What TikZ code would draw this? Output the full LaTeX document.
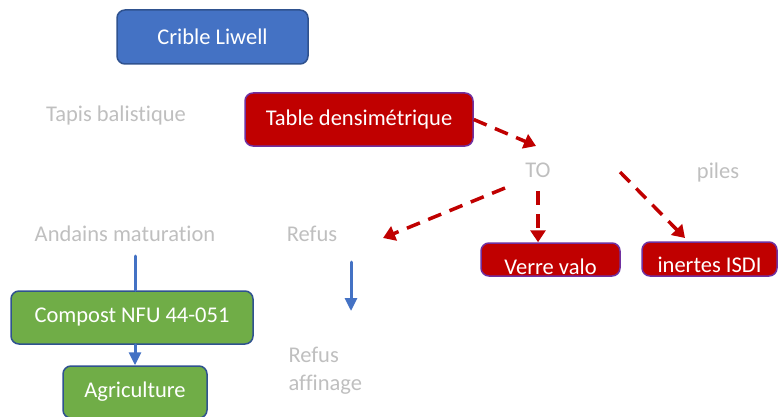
\documentclass[tikz,border=0pt]{standalone}
\usepackage{fontspec}
\setmainfont{Carlito}[Ligatures=NoCommon]
\usetikzlibrary{arrows.meta}
\definecolor{bleu}{HTML}{4472C4}
\definecolor{bleufonce}{HTML}{2F528F}
\definecolor{rouge}{HTML}{C00000}
\definecolor{violet}{HTML}{7030A0}
\definecolor{vert}{HTML}{70AD47}

\begin{document}
\begin{tikzpicture}[line cap=round,line join=round,x=1pt,y=-1pt,
  boite/.style={rounded corners=8pt,line width=1.5pt,text=white,inner sep=0pt,font=\fontsize{22.5}{24}\selectfont},
  boxbleue/.style={boite,fill=bleu,draw=bleufonce},
  boxrouge/.style={boite,fill=rouge,draw=violet},
  boxverte/.style={boite,fill=vert,draw=bleufonce},
  gris/.style={text=gray!50,font=\fontsize{22.5}{28}\selectfont},
  tirets/.style={draw=rouge,line width=3.5pt,line cap=butt,dash pattern=on 14pt off 9pt,-{Triangle[length=12pt,width=15pt]}},
  fleche/.style={draw=bleu,line width=3pt,-{Triangle[length=13pt,width=12pt]}},
  trait/.style={draw=bleu,line width=3pt}]
\useasboundingbox (0,0) rectangle (778,417);

\node[boxbleue,minimum width=191pt,minimum height=54pt] (crible) at (212.5,37) {Crible Liwell};
\node[boxrouge,minimum width=228pt,minimum height=53pt] (table) at (359,119.5) {Table densimétrique};
\node[boxrouge,minimum width=139pt,text height=29pt,text depth=0pt,inner ysep=2pt] (verre) at (550.5,259.5) {Verre valo};
\node[boxrouge,minimum width=135pt,text height=27pt,text depth=0pt,inner ysep=3.5pt] (inertes) at (709.5,259) {inertes ISDI};
\node[boxverte,minimum width=242pt,minimum height=53pt] (compost) at (132,317.5) {Compost NFU 44-051};
\node[boxverte,minimum width=144pt,minimum height=52pt] (agri) at (135,392) {Agriculture};

\node[gris] (tapis) at (116,116) {Tapis balistique};
\node[gris] (to) at (538,170) {TO};
\node[gris] (piles) at (718,173) {piles};
\node[gris] (andains) at (125,234) {Andains maturation};
\node[gris] (refus) at (312,234) {Refus};
\node[gris,align=left,anchor=north west] (affinage) at (285,344) {Refus\\affinage};

\coordinate (t1) at (536,146);
\coordinate (t2) at (505,188);
\coordinate (t3) at (383,238);
\coordinate (t4) at (620,172);
\coordinate (t5) at (685,238);
\coordinate (a1) at (135,256);
\coordinate (r1) at (351,262);
\coordinate (r2) at (351,311);

\draw[tirets] (table.east) -- (t1);
\draw[tirets] (t2) -- (t3);
\draw[tirets] ([yshift=-10pt]to.south) -- (verre.north -| to);
\draw[tirets] (t4) -- (t5);

\draw[trait] (a1) -- (a1 |- compost.north);
\draw[fleche] (compost.south -| agri) -- (agri.north);
\draw[fleche] (r1) -- (r2);
\end{tikzpicture}
\end{document}
